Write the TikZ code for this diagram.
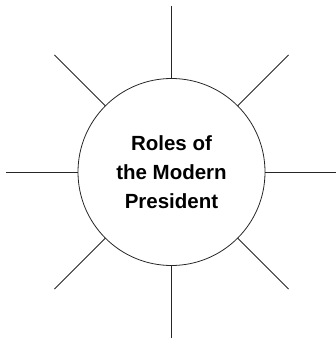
\documentclass[tikz,border=0pt]{standalone}
\usepackage{fontspec}
\setmainfont{Liberation Sans}
\usetikzlibrary{calc}
\begin{document}
\begin{tikzpicture}[x=1pt,y=1pt,
  hub/.style={circle,draw=black!85,line width=0.8pt,minimum size=187pt,inner sep=0pt,align=center,
    font=\fontsize{20.5}{28.7}\selectfont\bfseries,text=black},
  spoke/.style={line width=0.8pt,draw=black!85}]
\useasboundingbox (0,0) rectangle (336,-339);
\node[hub] (c) at (171.5,-172) {Roles of\\the Modern\\President};
\foreach \a in {0,45,...,315}{
  \coordinate (o\a) at ($(171.5,-172)+(\a:165.5)$);
  \draw[spoke] (c.\a) -- (o\a);
}
\end{tikzpicture}
\end{document}
